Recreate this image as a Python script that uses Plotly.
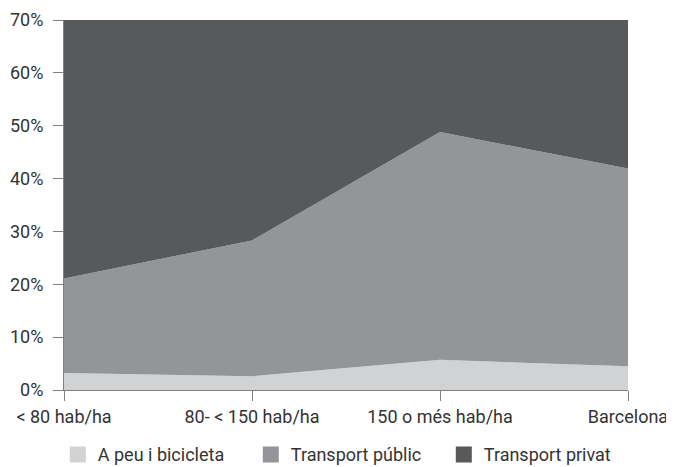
import plotly.graph_objects as go

categories = ["< 80 hab/ha", "80- < 150 hab/ha", "150 o més hab/ha", "Barcelona"]
walk = [3.2, 2.6, 5.7, 4.5]
public = [17.9, 25.7, 43.1, 37.4]
private = [78.9, 71.7, 51.2, 58.1]
series_names = ["A peu i bicicleta", "Transport públic", "Transport privat"]
colors = ["#d1d2d4", "#939598", "#58595b"]
yticks = [0, 10, 20, 30, 40, 50, 60, 70]
ytick_labels = ["0%", "10%", "20%", "30%", "40%", "50%", "60%", "70%"]

xs = list(range(len(categories)))
fig = go.Figure()
for name, vals, col in zip(series_names, [walk, public, private], colors):
    fig.add_trace(go.Scatter(x=xs, y=vals, stackgroup="one", mode="none",
                             fillcolor=col, name=name, showlegend=False,
                             hoverinfo="skip"))
for name, col in zip(series_names, colors):
    fig.add_trace(go.Scatter(x=[None], y=[None], mode="markers", name=name,
                             marker=dict(symbol="square", size=16, color=col,
                                         line=dict(width=0))))

fig.update_layout(
    width=666, height=459,
    margin=dict(l=56, r=46, t=12, b=77, autoexpand=False),
    paper_bgcolor="white", plot_bgcolor="white",
    font=dict(family="Roboto", size=18, color="#333333"),
    legend=dict(orientation="h", x=-0.011, xanchor="left", y=-0.125, yanchor="top",
                traceorder="normal", entrywidth=148, entrywidthmode="pixels",
                itemsizing="trace", font=dict(size=18)),
    xaxis=dict(range=[0, 3], tickmode="array", tickvals=xs, ticktext=categories,
               showgrid=False, zeroline=False, showline=True, linecolor="#808080",
               linewidth=1, ticks="outside", ticklen=10, tickcolor="#808080",
               automargin=False),
    yaxis=dict(range=[0, 70], tickmode="array", tickvals=yticks, ticktext=ytick_labels,
               showgrid=False, zeroline=False, showline=True, linecolor="#808080",
               linewidth=1, ticks="outside", ticklen=10, tickcolor="#808080",
               ticklabelstandoff=6, automargin=False),
)
fig.write_html("out.html")
